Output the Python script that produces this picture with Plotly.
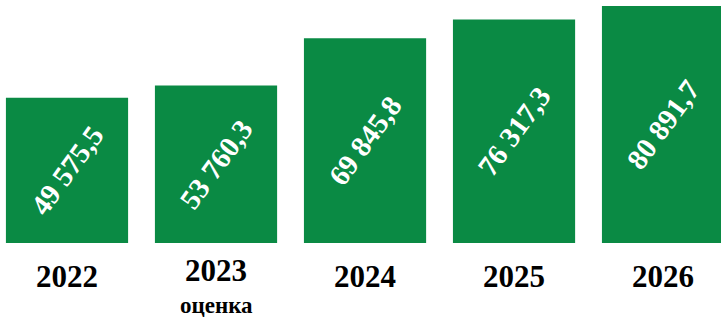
import plotly.graph_objects as go

years = ["2022", "2023", "2024", "2025", "2026"]
year_labels = ["2022", "2023", "2024", "2025", "2026"]
sub_labels = ["", "оценка", "", "", ""]
values = [49575.5, 53760.3, 69845.8, 76317.3, 80891.7]
value_labels = ["49 575,5", "53 760,3", "69 845,8", "76 317,3", "80 891,7"]

fig = go.Figure(go.Bar(
    x=years, y=values, text=value_labels,
    textposition="inside", insidetextanchor="middle", textangle=-54,
    constraintext="none",
    textfont=dict(family="Liberation Serif", size=29, color="white", weight="bold"),
    marker=dict(color="#0a8a44", line=dict(width=0)),
    width=0.82,
))

for i, (lab, sub) in enumerate(zip(year_labels, sub_labels)):
    ypix = 270 if sub else 276
    fig.add_annotation(x=i, xref="x", y=-(ypix - 243) / 243, yref="paper", text=lab,
                       showarrow=False, yanchor="middle",
                       font=dict(family="Liberation Serif", size=31, color="black", weight="bold"))
    if sub:
        fig.add_annotation(x=i, xref="x", y=-(305 - 243) / 243, yref="paper", text=sub,
                           showarrow=False, yanchor="middle",
                           font=dict(family="Liberation Serif", size=23, color="black", weight="bold"))

fig.update_layout(
    width=721, height=317,
    margin=dict(l=0, r=0, t=0, b=74),
    paper_bgcolor="white", plot_bgcolor="white",
    showlegend=False,
    xaxis=dict(type="category", range=[-0.4497, 4.389], showticklabels=False,
               showgrid=False, zeroline=False, showline=False, ticks=""),
    yaxis=dict(range=[0, 82940], visible=False, showgrid=False, zeroline=False),
)
fig.write_html("out.html", config={"displayModeBar": False},
               post_script="document.body.style.margin='0';")
